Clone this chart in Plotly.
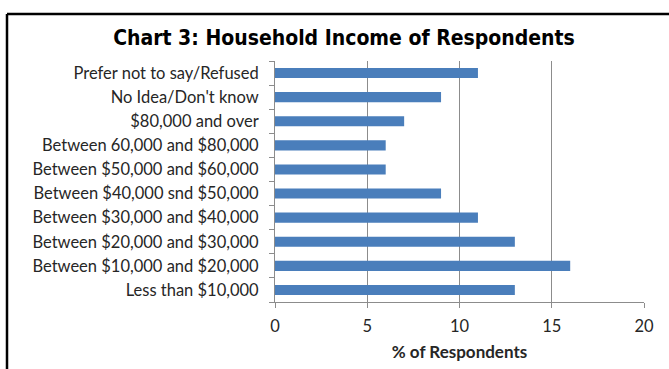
import plotly.graph_objects as go

categories = [
    "Less than $10,000",
    "Between $10,000 and $20,000",
    "Between $20,000 and $30,000",
    "Between $30,000 and $40,000",
    "Between $40,000 snd $50,000",
    "Between $50,000 and $60,000",
    "Between 60,000 and $80,000",
    "$80,000 and over",
    "No Idea/Don't know",
    "Prefer not to say/Refused",
]
values = [13, 16, 13, 11, 9, 6, 6, 7, 9, 11]
x_ticks = [0, 5, 10, 15, 20]

W, H = 669, 369
L, R, T, B = 275, 25, 61, 67
pw, ph = W - L - R, H - T - B

def px(x):
    return (x - L) / pw

def py(y):
    return (H - B - y) / ph

fig = go.Figure(go.Bar(
    x=values, y=categories, orientation="h",
    marker=dict(color="#4a7ebb", line=dict(width=0)),
    width=0.42,
))

fig.update_layout(
    width=W, height=H,
    margin=dict(l=L, r=R, t=T, b=B),
    paper_bgcolor="white", plot_bgcolor="white",
    showlegend=False,
    title=dict(text="<b>Chart 3: Household Income of Respondents</b>",
               x=px(344), xref="paper", xanchor="center", y=1 - 38 / H, yanchor="middle",
               font=dict(family="DejaVu Sans Condensed, Liberation Sans Narrow, Arial Narrow", size=21, color="black")),
    font=dict(family="Lato, Carlito, Calibri, sans-serif", size=16.5, color="#262626"),
)
fig.update_xaxes(
    range=[0, 20], tickvals=x_ticks, showgrid=True, gridcolor="#8c8c8c", gridwidth=1,
    showline=True, linecolor="#8c8c8c", ticks="outside", ticklen=5, tickcolor="#8c8c8c",
    zeroline=False, fixedrange=True, ticklabelstandoff=4, automargin=False,
    title=dict(text="<b>% of Respondents</b>", font=dict(size=17, family="Lato, Carlito, sans-serif"), standoff=11),
)
fig.update_yaxes(
    showline=True, linecolor="#8c8c8c", ticks="outside", ticklen=5, tickcolor="#8c8c8c",
    tickson="boundaries", showgrid=False, ticklabelstandoff=12, fixedrange=True, automargin=False,
)

# frame (top and left edges of the original chart border)
fig.add_shape(type="line", xref="paper", yref="paper",
              x0=px(7), x1=px(675), y0=py(14), y1=py(14), line=dict(color="black", width=2.5))
fig.add_shape(type="line", xref="paper", yref="paper",
              x0=px(7), x1=px(7), y0=py(14), y1=py(375), line=dict(color="black", width=2.5))

fig.write_html("out.html", config={"displayModeBar": False},
               post_script="document.body.style.margin='0';")
